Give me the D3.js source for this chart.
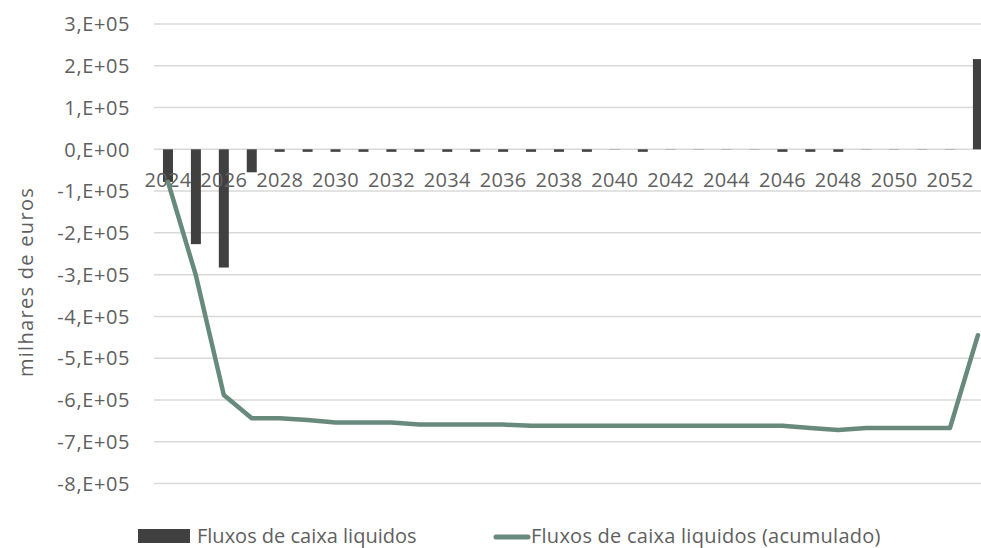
<!DOCTYPE html>
<html>
<head>
<meta charset="utf-8">
<script src="https://cdn.jsdelivr.net/npm/d3@7"></script>
<style>
  body { margin: 0; background: #fff; }
  svg { display: block; font-family: "Open Sans", sans-serif; }
  text { fill: #5f5f5f; }
</style>
</head>
<body>
<svg id="chart" width="981" height="548"></svg>
<script>
// chart values
var years = d3.range(2024, 2054);
var fluxos = [
  -78000, -227000, -283000, -55000,
  -6000, -6000, -6000, -6000, -6000, -6000, -6000, -6000, -6000, -6000, -6000, -6000,
  -500, -6000, -500, -500, -500, -500,
  -6000, -6000, -6000,
  -500, -500, -500, -500,
  216000
];
var acumulado = [
  -78000, -302000, -588000, -644000,
  -644000, -648000, -654000, -654000, -654000, -659000, -659000, -659000, -659000,
  -662000, -662000, -662000, -662000, -662000, -662000, -662000, -662000, -662000, -662000,
  -667000, -672000, -667000, -667000, -667000, -667000,
  -445000
];
var yTicks = d3.range(-800000, 300001, 100000);
var xLabelYears = years.filter(function(d) { return (d - 2024) % 2 == 0; });

var barColor = "#404040";
var lineColor = "#678a7d";
var gridColor = "#d9d9d9";

var svg = d3.select("#chart");

var x = d3.scaleBand()
    .domain(years)
    .range([154, 154 + 30 * 27.93])
    .paddingInner(0.643)
    .paddingOuter(0.3215);

var y = d3.scaleLinear()
    .domain([300000, -800000])
    .range([24, 483.5]);

function fmt(v) {
  if (v == 0) return "0,E+00";
  return (v / 100000) + ",E+05";
}

// gridlines
svg.append("g")
    .selectAll("line")
    .data(yTicks)
    .enter().append("line")
      .attr("x1", 154)
      .attr("x2", 981)
      .attr("y1", function(d) { return y(d); })
      .attr("y2", function(d) { return y(d); })
      .attr("stroke", gridColor)
      .attr("stroke-width", 1.5);

// y tick labels
svg.append("g")
    .selectAll("text")
    .data(yTicks)
    .enter().append("text")
      .attr("x", 130)
      .attr("y", function(d) { return y(d); })
      .attr("dy", "0.36em")
      .attr("text-anchor", "end")
      .style("font-size", "20px")
      .style("letter-spacing", "0.6px")
      .text(fmt);

// y title
svg.append("text")
    .attr("transform", "translate(33,282) rotate(-90)")
    .attr("text-anchor", "middle")
    .style("font-size", "20px")
    .style("letter-spacing", "1.3px")
    .text("milhares de euros");

// bars
var barW = 10;
svg.append("g")
    .selectAll("rect")
    .data(fluxos)
    .enter().append("rect")
      .attr("x", function(d, i) { return x(years[i]) + x.bandwidth() / 2 - barW / 2; })
      .attr("width", barW)
      .attr("y", function(d) { return y(Math.max(0, d)); })
      .attr("height", function(d) { return Math.abs(y(d) - y(0)); })
      .attr("fill", barColor);

// x category labels (every second year), drawn next to the zero line
svg.append("g")
    .selectAll("text")
    .data(xLabelYears)
    .enter().append("text")
      .attr("x", function(d) { return x(d) + x.bandwidth() / 2; })
      .attr("y", 187)
      .attr("text-anchor", "middle")
      .style("font-size", "20px")
      .style("letter-spacing", "0.3px")
      .text(function(d) { return d; });

// cumulative line
var line = d3.line()
    .x(function(d, i) { return x(years[i]) + x.bandwidth() / 2; })
    .y(function(d) { return y(d); });

svg.append("path")
    .datum(acumulado)
    .attr("d", line)
    .attr("fill", "none")
    .attr("stroke", lineColor)
    .attr("stroke-width", 4.5)
    .attr("stroke-linejoin", "round")
    .attr("stroke-linecap", "round");

// legend
var legend = svg.append("g");
legend.append("rect")
    .attr("x", 138).attr("y", 529)
    .attr("width", 52).attr("height", 14)
    .attr("fill", barColor);
legend.append("text")
    .attr("x", 197).attr("y", 543)
    .style("font-size", "20px")
    .text("Fluxos de caixa liquidos");
legend.append("line")
    .attr("x1", 496).attr("x2", 528)
    .attr("y1", 537).attr("y2", 537)
    .attr("stroke", lineColor)
    .attr("stroke-width", 5)
    .attr("stroke-linecap", "round");
legend.append("text")
    .attr("x", 531).attr("y", 543)
    .style("font-size", "20px")
    .style("letter-spacing", "0.25px")
    .text("Fluxos de caixa liquidos (acumulado)");
</script>
</body>
</html>
